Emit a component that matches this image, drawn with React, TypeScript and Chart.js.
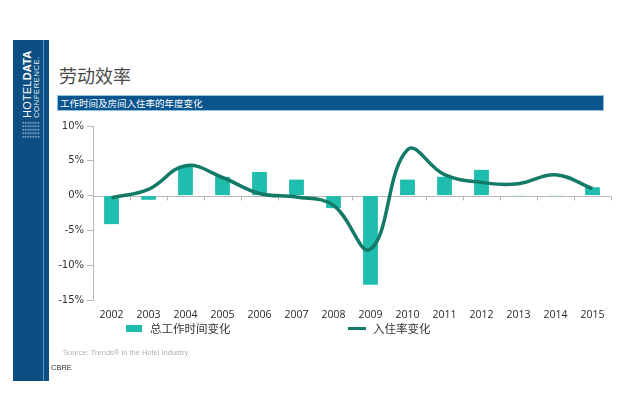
import React, { useEffect, useRef } from "react";
import { Chart, registerables } from "chart.js";

Chart.register(...registerables);

const years = ["2002", "2003", "2004", "2005", "2006", "2007", "2008", "2009", "2010", "2011", "2012", "2013", "2014", "2015"];
const hoursChange = [-4.1, -0.6, 4.2, 2.7, 3.4, 2.3, -1.8, -12.8, 2.3, 2.7, 3.7, 0.1, 0.1, 1.2];
const occupancyChange = [-0.3, 0.9, 4.3, 2.6, 0.3, -0.2, -1.4, -7.7, 6.6, 3.0, 1.9, 1.7, 3.0, 1.0];
const yTicks = [10, 5, 0, -5, -10, -15];

const barLabel = "总工作时间变化";
const lineLabel = "入住率变化";
const barColor = "#1fbdae";
const lineColor = "#137a68";

const zeroLinePlugin = {
  id: "zeroLine",
  beforeDatasetsDraw(chart: any) {
    const { ctx, chartArea, scales } = chart;
    const x = scales.x;
    const y = scales.y;
    const y0 = Math.round(y.getPixelForValue(0)) + 0.5;
    const n = years.length;
    const step = (chartArea.right - chartArea.left) / n;
    ctx.save();
    ctx.strokeStyle = "#b8b8b8";
    ctx.lineWidth = 1;
    ctx.beginPath();
    ctx.moveTo(chartArea.left, y0);
    ctx.lineTo(chartArea.right, y0);
    for (let i = 1; i <= n; i++) {
      const px = Math.round(x.left + i * step) + 0.5;
      ctx.moveTo(px, y0);
      ctx.lineTo(px, y0 + 4);
    }
    ctx.stroke();
    ctx.restore();
  },
};

function ChartBox() {
  const ref = useRef<HTMLCanvasElement | null>(null);
  useEffect(() => {
    if (!ref.current) return;
    const chart = new Chart(ref.current, {
      data: {
        labels: years,
        datasets: [
          {
            type: "line",
            label: lineLabel,
            data: occupancyChange,
            borderColor: lineColor,
            backgroundColor: lineColor,
            borderWidth: 3.5,
            tension: 0.4,
            pointRadius: 0,
            fill: false,
            order: 0,
          },
          {
            type: "bar",
            label: barLabel,
            data: hoursChange,
            backgroundColor: barColor,
            borderWidth: 0,
            categoryPercentage: 0.8,
            barPercentage: 0.5,
            order: 1,
          },
        ],
      } as any,
      options: {
        animation: false,
        responsive: false,
        layout: { padding: { top: 10, right: 4, left: 0, bottom: 0 } },
        plugins: { legend: { display: false }, tooltip: { enabled: false } },
        scales: {
          x: {
            type: "category",
            offset: true,
            grid: { display: false, drawTicks: false },
            border: { display: false },
            ticks: {
              color: "#2a2a2a",
              padding: 9,
              maxRotation: 0,
              font: { family: "'Open Sans', 'Liberation Sans', sans-serif", size: 10.5 },
            },
            afterFit(scale: any) {
              scale.height = 26;
            },
          },
          y: {
            min: -15,
            max: 10,
            afterBuildTicks(scale: any) {
              scale.ticks = yTicks.map((v) => ({ value: v }));
            },
            grid: { drawOnChartArea: false, drawTicks: true, tickLength: 6, color: "#b8b8b8" },
            border: { display: true, color: "#b8b8b8" },
            ticks: {
              color: "#333",
              padding: 3,
              font: { family: "'DejaVu Sans', sans-serif", size: 10 },
              callback: (v: any) => v + "%",
            },
            afterFit(scale: any) {
              scale.width = 38;
            },
          },
        },
      } as any,
      plugins: [zeroLinePlugin],
    });
    return () => chart.destroy();
  }, []);
  return <canvas ref={ref} width={560} height={210} style={{ width: 560, height: 210, display: "block" }} />;
}

export default function App() {
  const cjk = "'Noto Sans CJK SC', 'Noto Sans', sans-serif";
  return (
    <div style={{ position: "absolute", left: 0, top: 0, width: 640, height: 420, background: "#fff", overflow: "hidden", fontFamily: "'Liberation Sans', sans-serif" }}>
      {/* sidebar */}
      <div style={{ position: "absolute", left: 13, top: 40, width: 36, height: 341, background: "#0d4f82" }} />
      <div style={{ position: "absolute", left: 43, top: 40, width: 1, height: 341, background: "#5a95c0" }} />
      <div style={{ position: "absolute", left: 22, top: 48, height: 70, writingMode: "vertical-rl", transform: "rotate(180deg)", color: "#fff", fontSize: 11, lineHeight: "11px", letterSpacing: 0.2, fontFamily: "'Liberation Sans', sans-serif", whiteSpace: "nowrap" }}>
        HOTEL<b>DATA</b>
      </div>
      <div style={{ position: "absolute", left: 33, top: 48, height: 70, writingMode: "vertical-rl", transform: "rotate(180deg)", color: "#dfe9f2", fontSize: 8, lineHeight: "8px", letterSpacing: 0.3, fontFamily: "'Liberation Sans', sans-serif", whiteSpace: "nowrap" }}>
        CONFERENCE.
      </div>
      <div style={{ position: "absolute", left: 22, top: 121, width: 18, height: 18, backgroundImage: "radial-gradient(circle, #b9cfe2 0.8px, transparent 1px)", backgroundSize: "2.5px 3.5px", opacity: 0.8 }} />

      {/* title */}
      <div style={{ position: "absolute", left: 59, top: 64, fontSize: 18, lineHeight: "22px", color: "#4a4a4a", fontFamily: cjk }}>劳动效率</div>
      <div style={{ position: "absolute", left: 57, top: 95, width: 545, height: 14, background: "#0b558f", border: "1px solid #8fc3df", boxSizing: "content-box" }}>
        <div style={{ position: "absolute", left: 2, top: 0, fontSize: 9.5, lineHeight: "14px", color: "#fff", fontFamily: cjk, whiteSpace: "nowrap" }}>工作时间及房间入住率的年度变化</div>
      </div>

      {/* chart */}
      <div style={{ position: "absolute", left: 55, top: 116, width: 560, height: 210 }}>
        <ChartBox />
      </div>

      {/* legend */}
      <div style={{ position: "absolute", left: 126, top: 325, width: 16, height: 7, background: barColor }} />
      <div style={{ position: "absolute", left: 150, top: 321, fontSize: 11.5, lineHeight: "15px", color: "#333", fontFamily: cjk, whiteSpace: "nowrap" }}>{barLabel}</div>
      <div style={{ position: "absolute", left: 348, top: 327, width: 18, height: 3, background: lineColor }} />
      <div style={{ position: "absolute", left: 373, top: 321, fontSize: 11.5, lineHeight: "15px", color: "#333", fontFamily: cjk, whiteSpace: "nowrap" }}>{lineLabel}</div>

      {/* footer */}
      <div style={{ position: "absolute", left: 63, top: 348, fontSize: 7.5, lineHeight: "10px", color: "#b0b0b0", whiteSpace: "nowrap" }}>Source: Trends® in the Hotel Industry</div>
      <div style={{ position: "absolute", left: 51, top: 363, fontSize: 7.5, lineHeight: "9px", color: "#333", whiteSpace: "nowrap" }}>CBRE</div>
    </div>
  );
}
